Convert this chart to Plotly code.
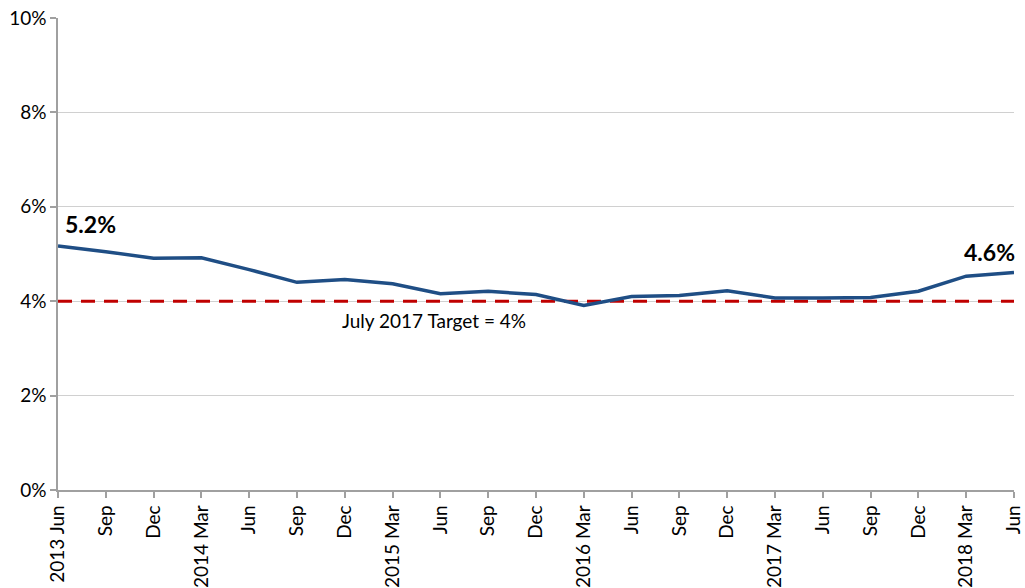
import plotly.graph_objects as go

categories = ["2013 Jun", "Sep", "Dec", "2014 Mar", "Jun", "Sep", "Dec", "2015 Mar", "Jun", "Sep", "Dec",
              "2016 Mar", "Jun", "Sep", "Dec", "2017 Mar", "Jun", "Sep", "Dec", "2018 Mar", "Jun"]
rate = [5.17, 5.05, 4.91, 4.92, 4.67, 4.40, 4.46, 4.37, 4.16, 4.21, 4.14,
        3.91, 4.10, 4.12, 4.22, 4.07, 4.07, 4.08, 4.21, 4.53, 4.61]
target = 4.0
y_ticks = [0, 2, 4, 6, 8, 10]
y_labels = ["0%", "2%", "4%", "6%", "8%", "10%"]

xs = list(range(len(categories)))
FONT = "Lato, Calibri, sans-serif"

fig = go.Figure()
fig.add_trace(go.Scatter(x=[xs[0], xs[-1]], y=[target, target], mode="lines",
                         line=dict(color="#C00000", width=3, dash="14px,9px"), hoverinfo="skip"))
fig.add_trace(go.Scatter(x=xs, y=rate, mode="lines",
                         line=dict(color="#1F4E85", width=3.5)))

fig.add_annotation(x=xs[0], y=rate[0], text="<b>5.2%</b>", showarrow=False,
                   xanchor="left", yanchor="bottom", xshift=5, yshift=6,
                   font=dict(family=FONT, size=23, color="#000000"))
fig.add_annotation(x=xs[-1], y=rate[-1], text="<b>4.6%</b>", showarrow=False,
                   xanchor="right", yanchor="bottom", xshift=3, yshift=4,
                   font=dict(family=FONT, size=23, color="#000000"))
fig.add_annotation(x=7.875, y=target, text="July 2017 Target = 4%", showarrow=False,
                   xanchor="center", yanchor="top", yshift=-6,
                   font=dict(family=FONT, size=19, color="#000000"))

fig.update_layout(
    width=1025, height=588,
    margin=dict(l=58, r=11, t=18, b=98, autoexpand=False),
    paper_bgcolor="white", plot_bgcolor="white",
    showlegend=False,
    font=dict(family=FONT, size=19, color="#000000"),
)
fig.update_xaxes(range=[0, 20], tickvals=xs, ticktext=categories, tickangle=-90,
                 automargin=False,
                 showgrid=False, showline=True, linecolor="#A0A0A0", linewidth=1.5,
                 ticks="outside", ticklen=6, tickcolor="#A0A0A0", tickwidth=1.5,
                 ticklabeloverflow="allow",
                 tickfont=dict(family=FONT, size=19, color="#000000"), zeroline=False)
fig.update_yaxes(range=[0, 10], tickvals=y_ticks, ticktext=y_labels,
                 automargin=False,
                 showgrid=True, gridcolor="#D0D0D0", gridwidth=1,
                 showline=True, linecolor="#A0A0A0", linewidth=1.5,
                 ticks="outside", ticklen=6, tickcolor="#A0A0A0", tickwidth=1.5,
                 tickfont=dict(family=FONT, size=19, color="#000000"), zeroline=False)

fig.write_html("out.html")
